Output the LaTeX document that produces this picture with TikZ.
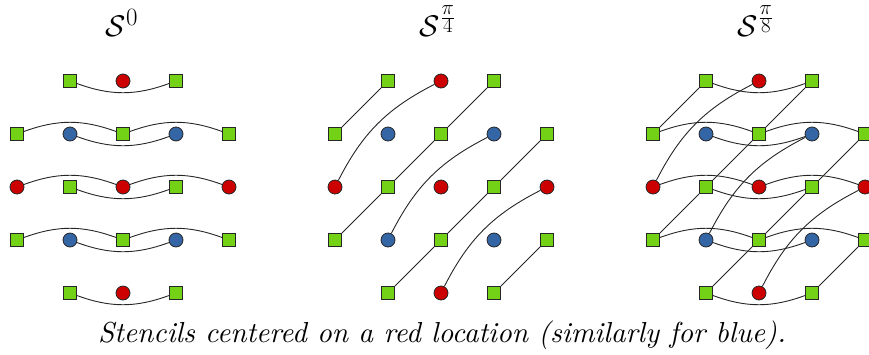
\documentclass[tikz,border=0pt]{standalone}
\usepackage{fontspec}
\newfontfamily\capfont{lmroman10-italic}[Extension=.otf]
\definecolor{stred}{HTML}{CC0000}
\definecolor{stblue}{HTML}{3465A4}
\definecolor{stgreen}{HTML}{73D216}
\tikzset{
  base/.style={draw=black!85, line width=0.8pt, inner sep=0pt},
  rednode/.style={base, circle, fill=stred, minimum size=14pt},
  bluenode/.style={base, circle, fill=stblue, minimum size=14pt},
  sqnode/.style={base, rectangle, fill=stgreen, minimum size=13pt},
  link/.style={line width=0.9pt, black!85},
  titletext/.style={anchor=base, font=\Huge, scale=1.2},
  captext/.style={anchor=base, font=\fontsize{28.9}{32}\selectfont\capfont},
}
\begin{document}
\begin{tikzpicture}[x=1pt, y=-1pt]
\useasboundingbox (0,0) rectangle (869,354);
% nodes
\foreach \p/\ox in {a/17, b/335, c/653} {
  \foreach \c in {0,...,4} {
    \foreach \r in {0,...,4} {
      \pgfmathtruncatemacro\corner{((\c==0)||(\c==4))&&((\r==0)||(\r==4))}
      \pgfmathtruncatemacro\odd{mod(\c+\r,2)}
      \pgfmathtruncatemacro\rodd{mod(\r,2)}
      \ifnum\corner=0
        \ifnum\odd=1
          \node[sqnode] (\p\c\r) at (\ox+53*\c, 81+53*\r) {};
        \else
          \ifnum\rodd=0
            \node[rednode] (\p\c\r) at (\ox+53*\c, 81+53*\r) {};
          \else
            \node[bluenode] (\p\c\r) at (\ox+53*\c, 81+53*\r) {};
          \fi
        \fi
      \fi
    }
  }
}
% horizontal stencils (panels a and c)
\foreach \p in {a,c} {
  \foreach \u/\v in {01/21, 21/41, 02/22, 22/42, 03/23, 23/43} {
    \draw[link] (\p\u) to[bend left=20] (\p\v);
  }
  \foreach \u/\v in {10/30, 11/31, 12/32, 13/33, 14/34} {
    \draw[link] (\p\u) to[bend right=20] (\p\v);
  }
}
% diagonal stencils (panels b and c)
\foreach \p in {b,c} {
  \foreach \u/\v in {01/10, 03/12, 12/21, 21/30, 14/23, 23/32, 32/41, 34/43} {
    \draw[link] (\p\u) -- (\p\v);
  }
  \foreach \u/\v in {02/20, 13/31, 24/42} {
    \draw[link] (\p\u) to[bend left=18] (\p\v);
  }
}
% titles
\node[titletext] (ta) at (122,36) {$\mathcal{S}^0$};
\node[titletext] (tb) at (438,36) {$\mathcal{S}^{\frac{\pi}{4}}$};
\node[titletext] (tc) at (756,36) {$\mathcal{S}^{\frac{\pi}{8}}$};
% caption
\node[captext] (cap) at (442,342) {Stencils centered on a red location (similarly for blue).};
\end{tikzpicture}
\end{document}
